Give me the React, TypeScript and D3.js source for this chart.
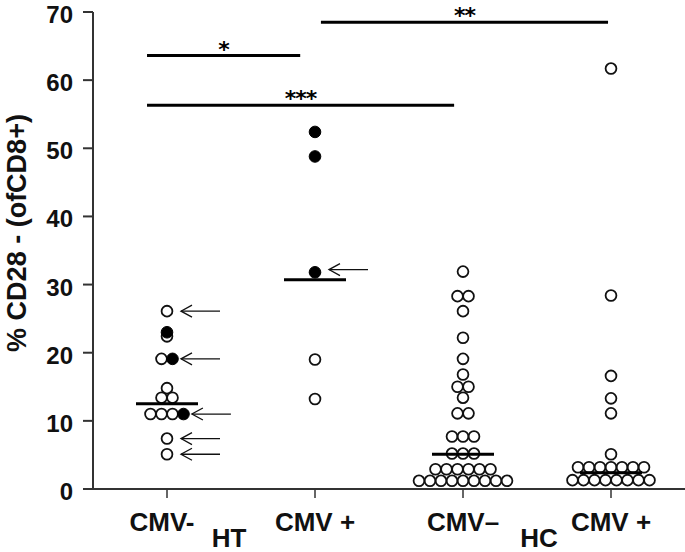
import React from 'react';
import * as d3 from 'd3';

// column scatter: % CD28- of CD8+ by group, medians as bars, significance brackets on top
const categories = ["CMV- HT", "CMV+ HT", "CMV- HC", "CMV+ HC"];
const tickLabels = ["CMV-", "CMV +", "CMV\u2013", "CMV +"];
const cohortLabels = [
  {label: "HT", between: [0, 1]},
  {label: "HC", between: [2, 3]}
];

const openValues = [
  [26.1, 22.4, 19.1, 14.8, 13.4, 13.4, 11.0, 11.0, 11.0, 7.4, 5.1],
  [19.0, 13.2],
  [31.9, 28.3, 28.3, 26.1, 22.2, 19.1, 16.8, 15.0, 15.0, 13.4, 11.1, 11.1,
   7.7, 7.7, 7.7, 5.2, 5.2, 5.2, 2.9, 2.9, 2.9, 2.9, 2.9, 2.9,
   1.2, 1.2, 1.2, 1.2, 1.2, 1.2, 1.2, 1.2, 1.2],
  [61.7, 28.4, 16.6, 13.3, 11.1, 5.1, 3.2, 3.2, 3.2, 3.2, 3.2, 3.2, 3.2,
   1.3, 1.3, 1.3, 1.3, 1.3, 1.3, 1.3, 1.3]
];
const filledValues = [
  [23.0, 19.1, 11.0],
  [52.4, 48.8, 31.8],
  [],
  []
];
const medians = [12.5, 30.7, 5.1, 2.4];

// arrows marking single patients
const arrows = [
  {group: 0, value: 26.1}, {group: 0, value: 19.1}, {group: 0, value: 11.0},
  {group: 0, value: 7.4}, {group: 0, value: 5.1}, {group: 1, value: 32.2}
];

// significance brackets: from group a to group b at level (in axis units)
const brackets = [
  {a: 0, b: 1, level: 63.6, label: "*"},
  {a: 0, b: 2, level: 56.3, label: "***"},
  {a: 1, b: 3, level: 68.5, label: "**"}
];

const yTicks = [0, 10, 20, 30, 40, 50, 60, 70];

export default function App() {
  const width = 685;
  const height = 552;
  const margin = {top: 12, right: 0, bottom: 63, left: 93};
  const font = "'Liberation Sans', Arial, Helvetica, sans-serif";
  const r = 5.4;
  const spacing = 11;

  const x = d3.scaleBand()
    .domain(categories)
    .range([margin.left, width - margin.right])
    .padding(0);
  const cx = (i: number) => x(categories[i])! + x.bandwidth() / 2;

  const y = d3.scaleLinear()
    .domain([0, 70])
    .range([height - margin.bottom, margin.top]);

  // lay out points in rows: equal heights sit side by side, centred on the column
  type P = {group: number, value: number, filled: boolean, px: number, py: number};
  const points: P[] = [];
  categories.forEach((_, g) => {
    const pts = [
      ...openValues[g].map(v => ({value: v, filled: false})),
      ...filledValues[g].map(v => ({value: v, filled: true}))
    ];
    const rows = d3.groups(pts, d => Math.round(y(d.value) / 3));
    rows.forEach(([, row]) => {
      const n = row.length;
      row.forEach((d, i) => {
        points.push({group: g, value: d.value, filled: d.filled,
          px: cx(g) + (i - (n - 1) / 2) * spacing, py: y(d.value)});
      });
    });
  });

  const arrowStart = (a: {group: number, value: number}) => {
    const near = points.filter(p => p.group === a.group && Math.abs(p.py - y(a.value)) < 4);
    const right = d3.max(near, p => p.px) ?? cx(a.group);
    return Math.max(cx(a.group) + 14, right + r + 3);
  };

  const bracketX = (b: {a: number, b: number}) => {
    const step = x.step();
    if (b.a === 1) return [cx(b.a) + 0.04 * step, cx(b.b) - 0.02 * step];
    return [cx(b.a) - 0.135 * step, cx(b.b) - (b.b === 1 ? 0.1 : 0.06) * step];
  };

  const ink = "#111";

  return (
    <svg width={width} height={height} viewBox={`0 0 ${width} ${height}`}
      style={{position: 'absolute', left: 0, top: 0, background: '#fff'}}
      fontFamily={font}>
      {/* y axis */}
      <line x1={margin.left} x2={margin.left} y1={y(70)} y2={y(0)} stroke="#333" strokeWidth={2} />
      {yTicks.map(t => (
        <g key={t}>
          <line x1={margin.left - 10} x2={margin.left} y1={y(t)} y2={y(t)} stroke="#333" strokeWidth={2} />
          <text x={margin.left - 20} y={y(t) + 11} textAnchor="end" fontSize={24} fontWeight="bold" fill={ink}>{t}</text>
        </g>
      ))}
      <text transform={`translate(26,${233}) rotate(-90)`} textAnchor="middle" fontSize={27} fontWeight="bold" fill={ink}>
        % CD28 - (ofCD8+)
      </text>

      {/* x axis */}
      <line x1={margin.left} x2={width} y1={y(0)} y2={y(0)} stroke="#333" strokeWidth={2} />
      {categories.map((c, i) => (
        <g key={c}>
          <line x1={cx(i)} x2={cx(i)} y1={y(0)} y2={y(0) + 9} stroke="#333" strokeWidth={1.5} />
          <text x={cx(i) - (i === 0 ? 5 : 0)} y={531} textAnchor="middle" fontSize={26} fontWeight="bold" fill={ink}>{tickLabels[i]}</text>
        </g>
      ))}
      {cohortLabels.map(c => (
        <text key={c.label} x={(cx(c.between[0]) + cx(c.between[1])) / 2 + (c.label === "HC" ? 2 : -12)} y={547}
          textAnchor="middle" fontSize={26} fontWeight="bold" fill={ink}>{c.label}</text>
      ))}

      {/* points */}
      {points.filter(p => !p.filled).map((p, i) => (
        <circle key={'o' + i} cx={p.px} cy={p.py} r={r} fill="none" stroke={ink} strokeWidth={1.8} />
      ))}
      {points.filter(p => p.filled).map((p, i) => (
        <circle key={'f' + i} cx={p.px} cy={p.py} r={r + 0.4} fill="#000" stroke="#000" strokeWidth={1} />
      ))}

      {/* medians */}
      {medians.map((m, i) => (
        <line key={i} x1={cx(i) - 31} x2={cx(i) + 31} y1={y(m)} y2={y(m)} stroke="#000" strokeWidth={3} />
      ))}

      {/* arrows */}
      {arrows.map((a, i) => {
        const x0 = arrowStart(a);
        const yy = y(a.value);
        return (
          <g key={i} stroke={ink} strokeWidth={1.3} fill="none">
            <line x1={x0} x2={x0 + 39} y1={yy} y2={yy} />
            <polyline points={`${x0 + 11},${yy - 6} ${x0},${yy} ${x0 + 11},${yy + 6}`} />
          </g>
        );
      })}

      {/* significance brackets */}
      {brackets.map((b, i) => {
        const [x1, x2] = bracketX(b);
        return (
          <g key={i}>
            <line x1={x1} x2={x2} y1={y(b.level)} y2={y(b.level)} stroke="#000" strokeWidth={3} />
            <text x={(x1 + x2) / 2} y={y(b.level) + 1} textAnchor="middle" fontSize={22} fontWeight="bold"
              letterSpacing={-1} fontFamily="'DejaVu Sans', sans-serif" fill="#000">{b.label}</text>
          </g>
        );
      })}
    </svg>
  );
}
